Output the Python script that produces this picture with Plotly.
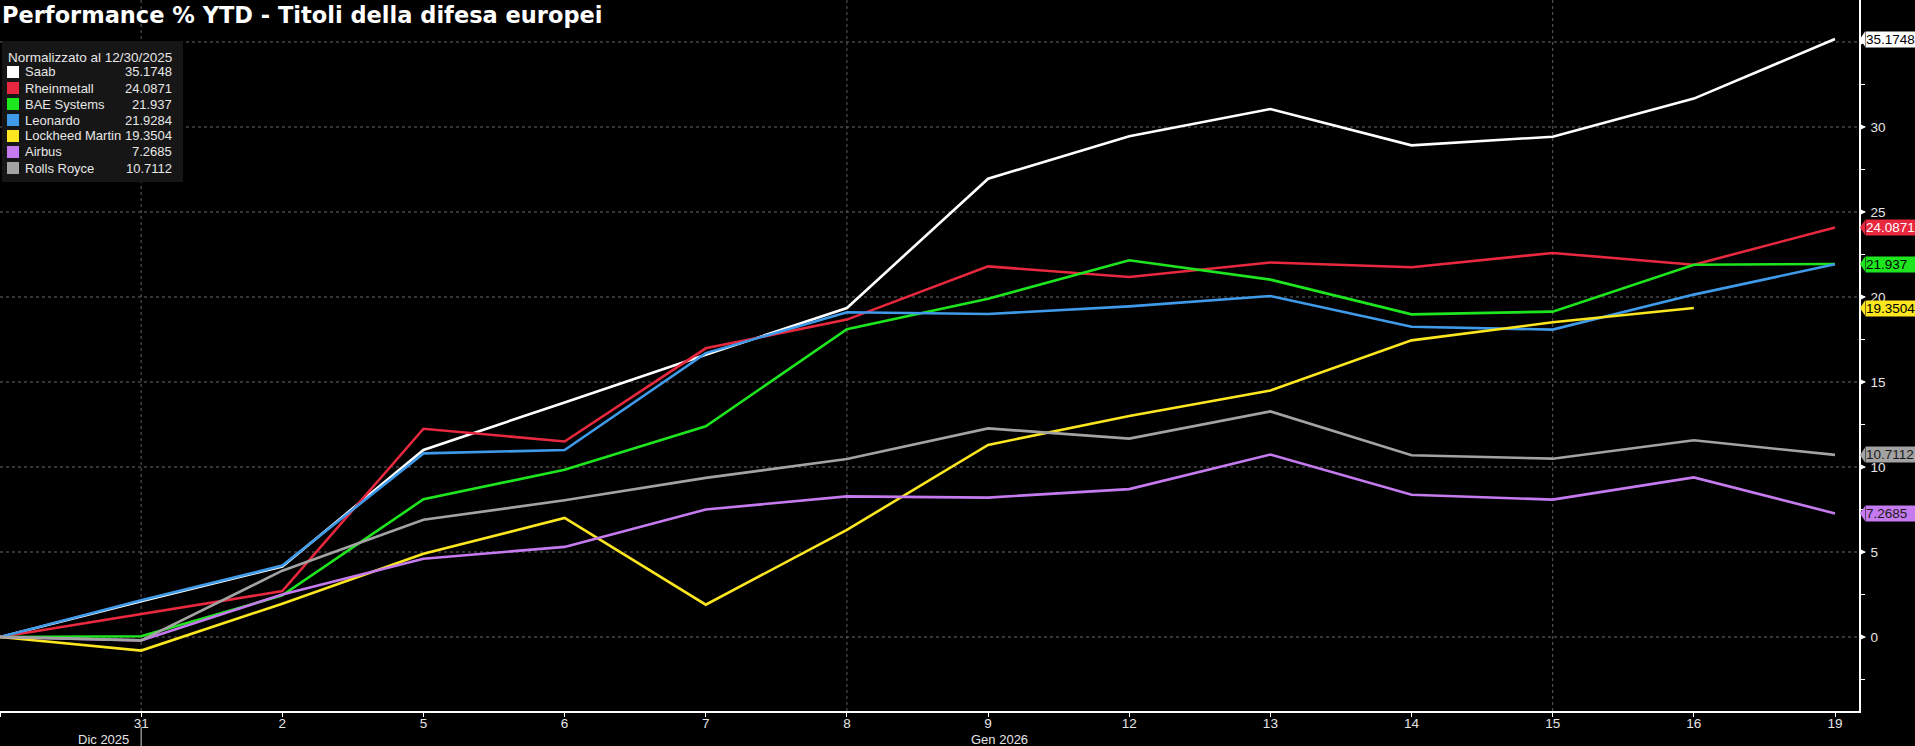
import plotly.graph_objects as go

# ---------------- data ----------------
day_labels = ["", "31", "2", "5", "6", "7", "8", "9", "12", "13", "14", "15", "16", "19"]
series_names = ["Saab", "Rheinmetall", "BAE Systems", "Leonardo", "Lockheed Martin", "Airbus", "Rolls Royce"]
saab = [0, 2.1, 4.15, 11.0, 13.8, 16.6, 19.35, 26.96, 29.45, 31.06, 28.92, 29.43, 31.67, 35.1748]
rheinmetall = [0, 1.37, 2.7, 12.25, 11.5, 16.98, 18.67, 21.8, 21.18, 22.03, 21.75, 22.59, 21.9, 24.0871]
bae = [0, 0.04, 2.45, 8.1, 9.84, 12.4, 18.1, 19.9, 22.16, 21.02, 18.98, 19.14, 21.9, 21.937]
leonardo = [0, 2.16, 4.2, 10.8, 11.0, 16.7, 19.1, 19.0, 19.45, 20.06, 18.25, 18.08, 20.14, 21.9284]
lockheed = [0, -0.8, 1.96, 4.9, 7.0, 1.9, 6.3, 11.3, 13.0, 14.5, 17.45, 18.51, 19.3504, None]
airbus = [0, -0.2, 2.5, 4.6, 5.3, 7.5, 8.27, 8.2, 8.7, 10.73, 8.37, 8.08, 9.39, 7.2685]
rolls = [0, -0.2, 3.9, 6.9, 8.04, 9.36, 10.47, 12.27, 11.67, 13.27, 10.69, 10.49, 11.57, 10.7112]
last_values = ["35.1748", "24.0871", "21.937", "21.9284", "19.3504", "7.2685", "10.7112"]
y_ticks = [-2.5, 0, 2.5, 5, 7.5, 10, 12.5, 15, 17.5, 20, 22.5, 25, 27.5, 30, 32.5, 35, 37.5]
y_ticktext = ["", "0", "", "5", "", "10", "", "15", "", "20", "", "25", "", "30", "", "", ""]

# ---------------- styles ----------------
colors = ["#ffffff", "#e8283f", "#1ee61e", "#3f9bea", "#fbe61f", "#c57bef", "#a3a3a3"]
label_text_colors = ["#000000", "#ffffff", "#000000", None, "#000000", "#1a1a1a", "#1a1a1a"]
all_series = [saab, rheinmetall, bae, leonardo, lockheed, airbus, rolls]
FONT = "Liberation Sans"
TITLE_FONT = "DejaVu Sans"
W, H = 1915, 746
ML, MR, MT, MB = 0, 56, 0, 35
PW, PH = W - ML - MR, H - MT - MB


def px_x(px):
    return (px - ML) / PW


def px_y(py):
    return (H - MB - py) / PH


xs = list(range(len(day_labels)))
fig = go.Figure()
for name, vals, col in zip(series_names, all_series, colors):
    fig.add_trace(go.Scatter(x=xs, y=vals, mode="lines", name=name,
                             line=dict(color=col, width=2.6), connectgaps=False,
                             showlegend=False))

shapes = []
# horizontal dashed gridlines
for v in [0, 5, 10, 15, 20, 25, 30, 35]:
    shapes.append(dict(type="line", xref="paper", yref="y", x0=0, x1=1, y0=v, y1=v,
                       line=dict(color="#6a6a6a", width=1, dash="dot"), layer="below"))
# vertical dashed gridlines
for i in [1, 6, 11]:
    shapes.append(dict(type="line", xref="x", yref="paper", x0=i, x1=i, y0=0, y1=1,
                       line=dict(color="#5e5e5e", width=1, dash="dot"), layer="below"))
# major tick triangles on right axis
for v in [0, 5, 10, 15, 20, 25, 30, 35]:
    shapes.append(dict(type="path", xref="paper", yref="y", xsizemode="pixel", ysizemode="pixel",
                       xanchor=1, yanchor=v, path="M 0,3.5 L 7,0 L 0,-3.5 Z",
                       fillcolor="#ffffff", line=dict(width=0), layer="above"))
# separator under "31"
shapes.append(dict(type="line", xref="x", yref="paper", x0=1, x1=1, y0=px_y(727), y1=px_y(746),
                   line=dict(color="#cfcfcf", width=1)))
# legend box
shapes.append(dict(type="rect", xref="paper", yref="paper", x0=px_x(2), x1=px_x(183),
                   y0=px_y(182), y1=px_y(41), fillcolor="#161616", line=dict(width=0), layer="above"))

annotations = []
# title
annotations.append(dict(xref="paper", yref="paper", x=px_x(0), y=px_y(15), xanchor="left",
                        yanchor="middle", showarrow=False,
                        text="Performance % YTD - Titoli della difesa europei",
                        font=dict(family=TITLE_FONT, size=22.5, color="#ffffff", weight="bold")))
# legend
annotations.append(dict(xref="paper", yref="paper", x=px_x(6), y=px_y(57), xanchor="left",
                        yanchor="middle", showarrow=False, text="Normalizzato al 12/30/2025",
                        font=dict(family=FONT, size=13.5, color="#e6e6e6")))
for k, (name, val, col) in enumerate(zip(series_names, last_values, colors)):
    yc = 72 + 16 * k
    shapes.append(dict(type="rect", xref="paper", yref="paper", x0=px_x(7), x1=px_x(19),
                       y0=px_y(yc + 6), y1=px_y(yc - 6), fillcolor=col, line=dict(width=0),
                       layer="above"))
    annotations.append(dict(xref="paper", yref="paper", x=px_x(23), y=px_y(yc), xanchor="left",
                            yanchor="middle", showarrow=False, text=name,
                            font=dict(family=FONT, size=13, color="#e6e6e6")))
    annotations.append(dict(xref="paper", yref="paper", x=px_x(174), y=px_y(yc), xanchor="right",
                            yanchor="middle", showarrow=False, text=val,
                            font=dict(family=FONT, size=13, color="#e6e6e6")))

# last-value tags on right axis
for vals, val, col, tcol in zip(all_series, last_values, colors, label_text_colors):
    if tcol is None:
        continue
    last = [v for v in vals if v is not None][-1]
    shapes.append(dict(type="path", xref="paper", yref="y", xsizemode="pixel", ysizemode="pixel",
                       xanchor=1, yanchor=last, path="M 1,0 L 6,7.5 L 6,-7.5 Z",
                       fillcolor=col, line=dict(width=0), layer="above"))
    annotations.append(dict(xref="paper", yref="y", x=1, y=last, xanchor="left", yanchor="middle",
                            xshift=6, showarrow=False, text=val, bgcolor=col, borderpad=0,
                            width=52, height=15, align="left",
                            font=dict(family=FONT, size=13.5, color=tcol)))

# month labels
annotations.append(dict(xref="paper", yref="paper", x=px_x(131), y=px_y(739), xanchor="right",
                        yanchor="middle", showarrow=False, text="Dic 2025",
                        font=dict(family=FONT, size=13, color="#e6e6e6")))
annotations.append(dict(xref="paper", yref="paper", x=px_x(999), y=px_y(739), xanchor="center",
                        yanchor="middle", showarrow=False, text="Gen 2026",
                        font=dict(family=FONT, size=13, color="#e6e6e6")))

fig.update_layout(
    width=W, height=H,
    margin=dict(l=ML, r=MR, t=MT, b=MB, pad=0),
    paper_bgcolor="#000000", plot_bgcolor="#000000",
    showlegend=False,
    shapes=shapes, annotations=annotations,
    xaxis=dict(range=[0, 13.17], tickmode="array", tickvals=xs, ticktext=day_labels,
               showgrid=False, zeroline=False, showline=True, linecolor="#ffffff", linewidth=1.5,
               ticks="outside", ticklen=4, tickcolor="#ffffff", ticklabelstandoff=-5,
               tickfont=dict(family=FONT, size=13.5, color="#e6e6e6"), fixedrange=True),
    yaxis=dict(range=[-4.353, 37.47], side="right", tickmode="array", tickvals=y_ticks,
               ticktext=y_ticktext, showgrid=False, zeroline=False, showline=True,
               linecolor="#ffffff", linewidth=1.5, ticks="outside", ticklen=4, tickcolor="#ffffff",
               tickfont=dict(family=FONT, size=13.5, color="#e6e6e6"), ticklabelstandoff=3,
               fixedrange=True),
)

fig.write_html("out.html")
